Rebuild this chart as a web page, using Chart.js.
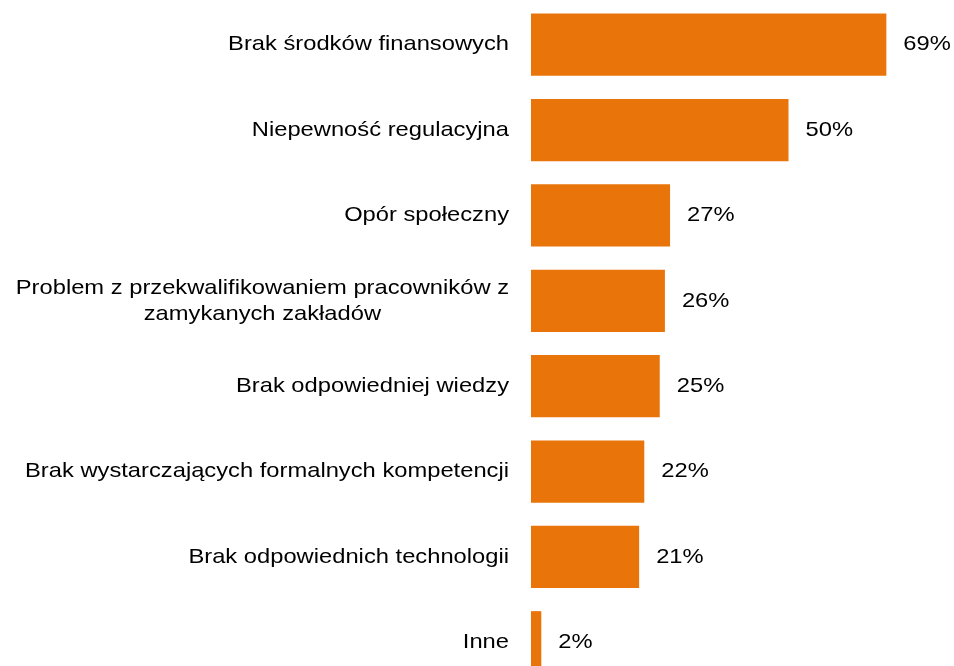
<!DOCTYPE html>
<html>
<head>
<meta charset="utf-8">
<script src="https://cdn.jsdelivr.net/npm/chart.js@4"></script>
<style>
  html, body { margin: 0; padding: 0; background: #fff; overflow: hidden; }
  #wrap { width: 954px; height: 685px; position: relative; }
</style>
</head>
<body>
<div id="wrap"><canvas id="barriersChart"></canvas></div>
<script>
    // categories (multi-line labels as arrays)
    const categories = [
        ['Brak środków finansowych'],
        ['Niepewność regulacyjna'],
        ['Opór społeczny'],
        ['Problem z przekwalifikowaniem pracowników z', 'zamykanych zakładów'],
        ['Brak odpowiedniej wiedzy'],
        ['Brak wystarczających formalnych kompetencji'],
        ['Brak odpowiednich technologii'],
        ['Inne']
    ];
    const values = [69, 50, 27, 26, 25, 22, 21, 2];
    const valueLabels = ['69%', '50%', '27%', '26%', '25%', '22%', '21%', '2%'];

    const FONT = '21px "Liberation Sans", Arial, sans-serif';
    const STRETCH = 1.13; // the reference text is a bit wider than Arial

    function drawText(ctx, text, x, y, align) {
        ctx.save();
        ctx.translate(x, y);
        ctx.scale(STRETCH, 1);
        ctx.textAlign = align;
        ctx.fillText(text, 0, 0);
        ctx.restore();
    }

    // draw the category labels, right edge fixed, lines centred within a label
    const categoryLabels = {
        id: 'categoryLabels',
        afterDraw(chart) {
            const ctx = chart.ctx;
            const yScale = chart.scales.y;
            const rightEdge = chart.chartArea.left - 22;
            const lineH = 26;
            ctx.save();
            ctx.font = FONT;
            ctx.fillStyle = '#000';
            ctx.textBaseline = 'middle';
            categories.forEach((lines, i) => {
                const y = yScale.getPixelForValue(i);
                let maxW = 0;
                lines.forEach(l => { maxW = Math.max(maxW, ctx.measureText(l).width * STRETCH); });
                const cx = rightEdge - maxW / 2;
                const y0 = y - (lines.length - 1) * lineH / 2;
                lines.forEach((l, j) => drawText(ctx, l, cx, y0 + j * lineH, 'center'));
            });
            ctx.restore();
        }
    };

    // value labels at bar ends
    const valueLabelPlugin = {
        id: 'valueLabels',
        afterDatasetsDraw(chart) {
            const ctx = chart.ctx;
            const meta = chart.getDatasetMeta(0);
            ctx.save();
            ctx.font = FONT;
            ctx.fillStyle = '#000';
            ctx.textBaseline = 'middle';
            meta.data.forEach((bar, i) => {
                drawText(ctx, valueLabels[i], bar.x + 17, bar.y, 'left');
            });
            ctx.restore();
        }
    };

    const data = {
        labels: categories.map(c => c.join(' ')),
        datasets: [{
            data: values,
            backgroundColor: '#E8740A',
            borderWidth: 0,
            categoryPercentage: 1.0,
            barPercentage: 0.73
        }]
    };

    const config = {
        type: 'bar',
        data: data,
        options: {
            indexAxis: 'y',
            responsive: true,
            maintainAspectRatio: false,
            animation: false,
            layout: {
                padding: { left: 531, right: 11, top: 2, bottom: 0 }
            },
            scales: {
                x: {
                    display: false,
                    min: 0,
                    max: 80
                },
                y: {
                    display: false
                }
            },
            plugins: {
                legend: { display: false },
                tooltip: { enabled: false }
            }
        },
        plugins: [categoryLabels, valueLabelPlugin]
    };

    const myChart = new Chart(
        document.getElementById('barriersChart'),
        config
    );
</script>
</body>
</html>
